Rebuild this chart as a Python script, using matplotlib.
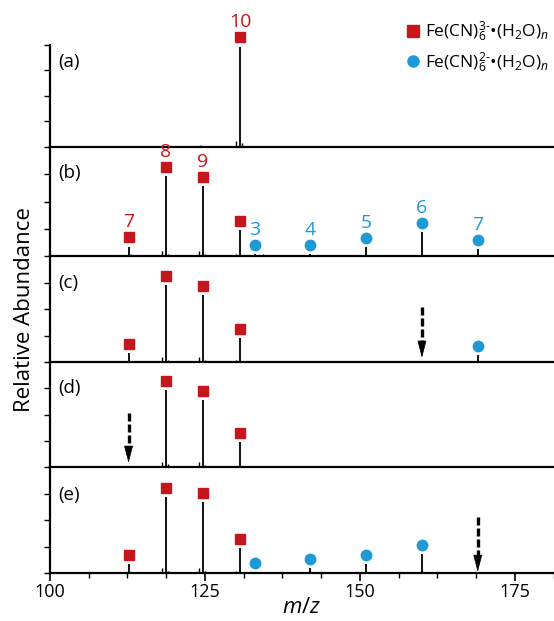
import matplotlib
matplotlib.use("Agg")
import matplotlib.pyplot as plt
from matplotlib.ticker import MultipleLocator
from matplotlib.lines import Line2D

plt.rcParams['font.family'] = ['Open Sans', 'DejaVu Sans']
plt.rcParams['mathtext.fontset'] = 'custom'
plt.rcParams['mathtext.rm'] = 'Open Sans'
plt.rcParams['mathtext.it'] = 'Open Sans:italic'
plt.rcParams['mathtext.bf'] = 'Open Sans:bold'

RED = '#C4161C'
BLUE = '#1D9AD6'

# ---------------- data ----------------
panels = ['(a)', '(b)', '(c)', '(d)', '(e)']
n3 = [7, 8, 9, 10]                       # Fe(CN)6^3- (H2O)n cluster sizes
mz3 = [112.67, 118.67, 124.67, 130.67]    # m/z of 3- clusters
n2 = [3, 4, 5, 6, 7]                      # Fe(CN)6^2- (H2O)n cluster sizes
mz2 = [133.0, 142.0, 151.0, 160.0, 169.0] # m/z of 2- clusters

# relative heights (None = not observed / not marked)
h3 = {
    '(a)': [None, None, None, 0.98],
    '(b)': [0.085, 0.73, 0.64, 0.24],
    '(c)': [0.085, 0.73, 0.63, 0.23],
    '(d)': [None, 0.73, 0.64, 0.24],
    '(e)': [0.085, 0.72, 0.67, 0.235],
}
h2 = {
    '(a)': [None, None, None, None, None],
    '(b)': [0.015, 0.02, 0.08, 0.22, 0.06],
    '(c)': [None, None, None, None, 0.065],
    '(d)': [None, None, None, None, None],
    '(e)': [0.01, 0.05, 0.085, 0.18, None],
}
# numeric labels drawn above markers (panel b and a)
label3 = {'(a)': [False, False, False, True], '(b)': [True, True, True, False]}
label2 = {'(b)': [True, True, True, True, True]}

# small satellite (isotope) peaks: (m/z, height)
sat_mz = {
    '(a)': [124.2, 130.0, 131.0],
    '(b)': [112.0, 113.0, 118.0, 119.0, 124.0, 125.0, 130.0, 131.0, 134.3],
    '(c)': [112.0, 118.0, 119.0, 124.0, 125.0, 130.0, 131.0],
    '(d)': [113.0, 118.0, 119.0, 124.0, 125.0, 131.0, 134.3],
    '(e)': [118.0, 119.0, 124.0, 125.0, 130.0, 131.0],
}
sat_h = {
    '(a)': [0.015, 0.06, 0.04],
    '(b)': [0.01, 0.02, 0.05, 0.02, 0.05, 0.02, 0.02, 0.01, 0.015],
    '(c)': [0.01, 0.05, 0.02, 0.05, 0.02, 0.02, 0.01],
    '(d)': [0.01, 0.05, 0.03, 0.05, 0.02, 0.01, 0.01],
    '(e)': [0.05, 0.02, 0.05, 0.02, 0.02, 0.01],
}
# dashed arrows marking the depleted cluster: (m/z, top, tip)
arrows = {'(c)': (160.0, 0.52, 0.04), '(d)': (112.67, 0.51, 0.04), '(e)': (169.0, 0.53, 0.01)}

xticks = [100, 125, 150, 175]

# ---------------- layout ----------------
W, H = 554, 621
fig = plt.figure(figsize=(W / 100, H / 100), dpi=100)
edges = [45, 147, 256, 362, 467, 573]  # pixel y of panel tops/bottoms
label_y = [0.83, 0.76, 0.75, 0.75, 0.74]
left_px = 50

axes = []
for i, p in enumerate(panels):
    top, bot = edges[i], edges[i + 1]
    ax = fig.add_axes([left_px / W, 1 - bot / H, 1 - left_px / W, (bot - top) / H])
    axes.append(ax)
    ax.set_xlim(100, 181.3)
    ax.set_ylim(0, 1)
    for s in ['top', 'right']:
        ax.spines[s].set_visible(False)
    ax.spines['left'].set_linewidth(1.6)
    ax.spines['bottom'].set_linewidth(1.6)
    ax.set_yticks([0, 0.25, 0.5, 0.75, 1.0] if i == 0 else [0, 0.25, 0.5, 0.75])
    ax.tick_params(axis='y', direction='out', length=4, width=1.0, labelleft=False)
    ax.patch.set_alpha(0)

    off = 0.085 if i > 0 else 0.10
    # main 3- peaks
    for j, (m, hh) in enumerate(zip(mz3, h3[p])):
        if hh is None:
            continue
        ax.vlines(m, 0, hh, color='k', lw=1.3)
        ax.plot(m, hh + off, 's', color=RED, ms=7, clip_on=False, zorder=5)
        if p in label3 and label3[p][j]:
            ax.text(m, hh + off + 0.055, str(n3[j]), color=RED, fontsize=14,
                    ha='center', va='bottom', clip_on=False)
    for j, (m, hh) in enumerate(zip(mz2, h2[p])):
        if hh is None:
            continue
        ax.vlines(m, 0, hh, color='k', lw=1.3)
        ax.plot(m, hh + off, 'o', color=BLUE, ms=7.5, clip_on=False, zorder=5)
        if p in label2 and label2[p][j]:
            ax.text(m, hh + off + 0.055, str(n2[j]), color=BLUE, fontsize=14,
                    ha='center', va='bottom', clip_on=False)
    ax.vlines(sat_mz[p], 0, sat_h[p], color='k', lw=1.0)

    if p in arrows:
        xm, ytop, ytip = arrows[p]
        hl = 0.14
        ax.plot([xm, xm], [ytop, ytip + hl - 0.01], color='k', lw=2.4,
                ls=(0, (2.4, 0.9)), solid_capstyle='butt', dash_capstyle='butt')
        ax.annotate('', xy=(xm, ytip), xytext=(xm, ytip + hl),
                    arrowprops=dict(arrowstyle='-|>,head_length=0.65,head_width=0.17',
                                    color='k', lw=0.5, shrinkA=0, shrinkB=0,
                                    mutation_scale=17))

    ax.text(0.016, label_y[i], p, transform=ax.transAxes, fontsize=13.5,
            ha='left', va='center')

    if i < len(panels) - 1:
        ax.set_xticks([])
    else:
        ax.set_xticks(xticks)
        ax.set_xticklabels([str(t) for t in xticks], fontsize=13)
        ax.xaxis.set_minor_locator(MultipleLocator(6.25))
        ax.tick_params(axis='x', which='major', direction='out', length=6, width=1.2, pad=1)
        ax.tick_params(axis='x', which='minor', direction='out', length=3.5, width=1.0)
        ax.set_xlabel(r'$m/z$', fontsize=16, labelpad=-3)

fig.text(25 / W, 1 - 310 / H, 'Relative Abundance', rotation=90, fontsize=16,
         ha='center', va='center')

# legend
leg_handles = [Line2D([], [], marker='s', color=RED, ls='none', ms=8),
               Line2D([], [], marker='o', color=BLUE, ls='none', ms=8)]
leg_labels = [r'Fe(CN)$_6^{3\text{-}}$•(H$_2$O)$_n$', r'Fe(CN)$_6^{2\text{-}}$•(H$_2$O)$_n$']
fig.legend(leg_handles, leg_labels, loc='upper right', bbox_to_anchor=(1.01, 0.985),
           frameon=False, fontsize=12.5, handletextpad=0.1, labelspacing=0.35,
           handlelength=1.2, borderaxespad=0.2)

fig.savefig('out.png', dpi=100)
